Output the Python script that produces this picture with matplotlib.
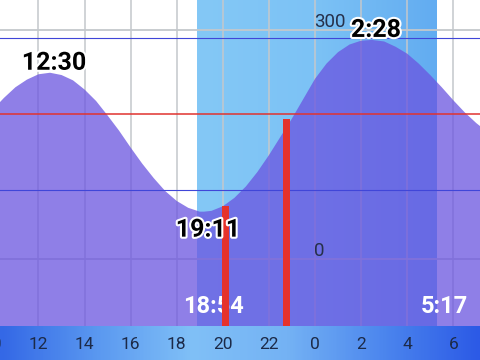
# tide chart: water height over one day, night band, marked extremes
import numpy as np
import matplotlib
matplotlib.use("Agg")
import matplotlib.pyplot as plt
import matplotlib.patheffects as pe
from matplotlib.colors import LinearSegmentedColormap

plt.rcParams["font.family"] = ["Roboto", "DejaVu Sans"]

# ---- data (hours past midnight of day 1; >24 means next day) ----
tide_hours = [10.0, 10.5, 11.0, 11.5, 12.0, 12.5, 13.0, 13.5, 14.0, 14.5,
              15.0, 15.5, 16.0, 16.5, 17.0, 17.5, 18.0, 18.5, 19.0, 19.18,
              19.5, 20.0, 20.5, 21.0, 21.5, 22.0, 22.5, 23.0, 23.5, 24.0,
              24.5, 25.0, 25.5, 26.0, 26.47, 27.0, 27.5, 28.0, 28.5, 29.0,
              29.5, 30.0, 30.5, 31.0, 31.5]
tide_cm = [195, 211, 225, 235, 242, 244, 241, 234, 222, 207,
           188, 168, 146, 125, 106, 89, 76, 67, 62, 62,
           63, 69, 80, 95, 114, 136, 160, 184, 210, 236,
           256, 271, 281, 286, 287, 285, 278, 269, 256, 241,
           225, 208, 192, 178, 166]

extreme_hours = [12.5, 19.18, 26.47]
extreme_cm = [244, 62, 287]
extreme_labels = ["12:30", "19:11", "2:28"]
extreme_is_high = [True, False, True]

sunset, sunrise = 18.9, 29.28
sun_labels = ["18:54", "5:17"]

marker_hours = [20.11, 22.78]
marker_cm = [70, 184]

ref_red = 190
ref_blue = [289, 91]
grid_levels = [0, 300]
tick_hours = list(range(10, 31, 2))

# ---- figure ----
xmin, xmax = 10.33, 31.16
ymin, ymax = -87.8, 339.3
fig = plt.figure(figsize=(4.8, 3.6), dpi=100)
ax = fig.add_axes([0, 34 / 360, 1, 326 / 360])
ax.set_xlim(xmin, xmax)
ax.set_ylim(ymin, ymax)
ax.axis("off")

# night band (horizontal gradient)
night = LinearSegmentedColormap.from_list("night", ["#84c8f6", "#7cc2f5", "#62acf1"])
ax.imshow(np.linspace(0, 1, 100)[None, :], cmap=night, aspect="auto",
          extent=[sunset, sunrise, ymin, ymax], zorder=0.5)

# grid
for h in tick_hours:
    ax.axvline(h, color="#c4c8cc", lw=1.3, alpha=0.85, zorder=1)
for g in grid_levels:
    ax.axhline(g, color="#c4c8cc", lw=1.3, zorder=1)

# tide fill
ax.fill_between(tide_hours, tide_cm, ymin, color="#6a54e0", alpha=0.75,
                lw=0, zorder=2)

# reference lines
ax.axhline(ref_red, color="#e0332f", lw=1.1, zorder=3)
for b in ref_blue:
    ax.axhline(b, color="#4046d8", lw=0.8, zorder=3)

# y labels at midnight
for g in grid_levels:
    ax.annotate(str(g), (24.0, g), xytext=(-1, -1), textcoords="offset pixels",
                ha="left", va="bottom", fontsize=13.5, color="#26304a", zorder=4)

# extreme labels
stroke = [pe.withStroke(linewidth=3, foreground="white")]
for h, v, lab, hi in zip(extreme_hours, extreme_cm, extreme_labels, extreme_is_high):
    ax.annotate(lab, (h, v), xytext=(4, 3 if hi else -6), textcoords="offset pixels",
                ha="center", va="baseline" if hi else "top", fontsize=18,
                fontweight="bold", color="black", path_effects=stroke, zorder=6)

# sunset / sunrise labels
for h, lab, dx in zip([sunset, sunrise], sun_labels, [16, 8]):
    ax.annotate(lab, (h, ymin), xytext=(dx, 8), textcoords="offset pixels",
                ha="center", va="bottom", fontsize=17, fontweight="bold",
                color="white", zorder=4)

# markers
ax.bar(marker_hours, np.array(marker_cm) - ymin, bottom=ymin, width=0.3,
       color="#e5322b", zorder=5)

# bottom time band
bx = fig.add_axes([0, 0, 1, 34 / 360])
bx.set_xlim(xmin, xmax)
bx.set_ylim(0, 1)
bx.axis("off")
band = LinearSegmentedColormap.from_list(
    "band", ["#3468e6", "#5a98f0", "#80c0f7", "#74b2f4", "#4c86ee", "#2c5ae6"])
bx.imshow(np.linspace(0, 1, 200)[None, :], cmap=band, aspect="auto",
          extent=[xmin, xmax, 0, 1])
for h in tick_hours:
    bx.text(h, 0.47, str(h % 24), ha="center", va="center", fontsize=12.5,
            color="#1c2a48")

fig.savefig("out.png", dpi=100)
